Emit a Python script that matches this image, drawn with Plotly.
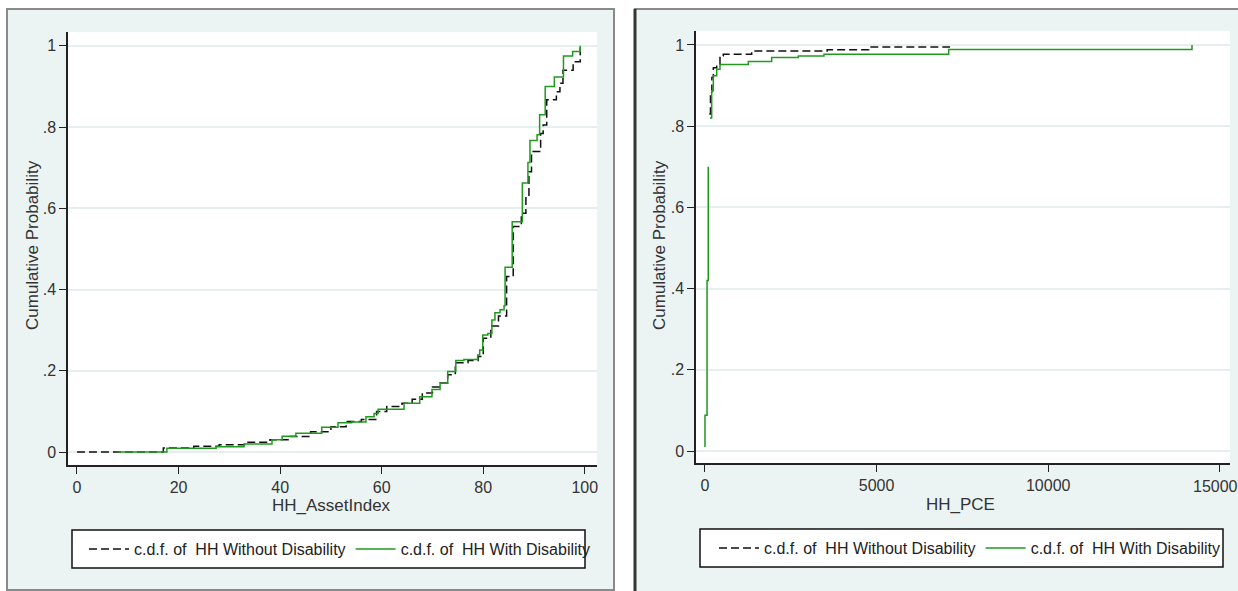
import plotly.graph_objects as go

W, H = 1238, 591

# ---------------- data ----------------
# Left panel: HH_AssetIndex
asset_without_x = [0, 17.0, 23, 28, 33, 38, 42, 46, 50, 53, 56, 59, 61, 64, 66, 68, 70, 71.5, 73, 74.5,
                   77, 79, 80, 81.5, 83, 84.6, 85.9, 87.5, 88.4, 89.0, 89.5, 91.3, 91.8, 92.5, 94.4,
                   95.1, 95.7, 97.7, 99.1]
asset_without_y = [0, 0.010, 0.014, 0.018, 0.024, 0.030, 0.038, 0.050, 0.062, 0.075, 0.080, 0.100, 0.112,
                   0.120, 0.130, 0.145, 0.160, 0.170, 0.190, 0.220, 0.225, 0.235, 0.280, 0.310, 0.335,
                   0.432, 0.555, 0.588, 0.629, 0.690, 0.740, 0.784, 0.805, 0.867, 0.887, 0.908, 0.940,
                   0.961, 1.0]
asset_with_x = [7.9, 17.7, 27.4, 32.9, 38.4, 40.4, 43.1, 48.2, 51.4, 54.1, 56.9, 58.5, 59.3, 64.4, 67.5,
                69.9, 71.5, 73.0, 74.6, 76.2, 78.9, 79.3, 79.9, 80.9, 81.7, 82.3, 83.3, 84.1, 84.3, 85.7,
                87.7, 88.8, 89.2, 90.6, 91.1, 92.2, 94.0, 95.8, 97.6, 99.1]
asset_with_y = [0, 0.009, 0.013, 0.020, 0.030, 0.039, 0.046, 0.061, 0.072, 0.074, 0.087, 0.095, 0.105,
                0.120, 0.136, 0.154, 0.169, 0.198, 0.225, 0.228, 0.239, 0.251, 0.288, 0.292, 0.325,
                0.343, 0.350, 0.360, 0.455, 0.567, 0.662, 0.713, 0.767, 0.781, 0.830, 0.900, 0.923,
                0.975, 0.986, 1.0]

# Right panel: HH_PCE
pce_without_x = [126, 160, 200, 243, 341, 437, 533, 1360, 3560, 4772, 7140]
pce_without_y = [0.830, 0.880, 0.920, 0.944, 0.952, 0.973, 0.977, 0.985, 0.988, 0.995, 0.995]
pce_with_x = [0, 0, 60, 95, None, 146, 195, 243, 341, 437, 1262, 1943, 2719, 3467, 7100, 14190]
pce_with_y = [0.01, 0.088, 0.42, 0.70, None, 0.82, 0.887, 0.924, 0.940, 0.952, 0.959, 0.969, 0.973,
              0.977, 0.989, 0.995]
pce_with_end_y = 1.0

y_ticks = [0, 0.2, 0.4, 0.6, 0.8, 1]
y_ticktext = ["0", ".2", ".4", ".6", ".8", "1"]
asset_ticks = [0, 20, 40, 60, 80, 100]
asset_ticktext = ["0", "20", "40", "60", "80", "100"]
pce_ticks = [0, 5000, 10000, 15000]
pce_ticktext = ["0", "5000", "10000", ""]
pce_last_label = "15000"  # drawn separately so it stays inside the page edge

name_without = "c.d.f. of  HH Without Disability"
name_with = "c.d.f. of  HH With Disability"
y_title = "Cumulative Probability"
x_title_left = "HH_AssetIndex"
x_title_right = "HH_PCE"

# ---------------- style ----------------
FONT = "Liberation Sans Narrow, Liberation Sans, Arial, sans-serif"
GREEN = "#1f9a1f"
BLACK = "#111111"
PANEL = "#ebf3f3"


def px(x):
    return x / W


def py(y):
    return 1 - y / H


fig = go.Figure()

fig.add_trace(go.Scatter(x=asset_without_x, y=asset_without_y, mode="lines", line_shape="hv",
                         line=dict(color=BLACK, width=1.5, dash="8px,4px"), name=name_without,
                         xaxis="x", yaxis="y", legend="legend"))
fig.add_trace(go.Scatter(x=asset_with_x, y=asset_with_y, mode="lines", line_shape="hv",
                         line=dict(color=GREEN, width=1.5), name=name_with,
                         xaxis="x", yaxis="y", legend="legend"))
fig.add_trace(go.Scatter(x=pce_without_x, y=pce_without_y, mode="lines", line_shape="hv",
                         line=dict(color=BLACK, width=1.5, dash="8px,4px"), name=name_without,
                         xaxis="x2", yaxis="y2", legend="legend2"))
fig.add_trace(go.Scatter(x=pce_with_x + [pce_with_x[-1]], y=pce_with_y + [pce_with_end_y], mode="lines",
                         line_shape="hv", connectgaps=False,
                         line=dict(color=GREEN, width=1.5), name=name_with,
                         xaxis="x2", yaxis="y2", legend="legend2"))

tick_font = dict(family=FONT, size=16, color="#333")
axis_common = dict(showline=True, linecolor="#222", linewidth=1.5, ticks="outside", ticklen=7,
                   tickcolor="#222", tickwidth=1.2, zeroline=False, tickfont=tick_font)

fig.update_layout(
    width=W, height=H, autosize=False, margin=dict(l=0, r=0, t=0, b=0),
    paper_bgcolor="white", plot_bgcolor="white",
    xaxis=dict(domain=[px(68), px(597)], range=[-1.77, 102.4], tickvals=asset_ticks,
               ticktext=asset_ticktext, showgrid=False, anchor="y", **axis_common),
    yaxis=dict(domain=[py(465), py(32)], range=[-0.032, 1.034], tickvals=y_ticks, ticktext=y_ticktext,
               showgrid=True, gridcolor="#e6efef", gridwidth=1.5, anchor="x", **axis_common),
    xaxis2=dict(domain=[px(696), px(1230)], range=[-262, 15297], tickvals=pce_ticks,
                ticktext=pce_ticktext, showgrid=False, anchor="y2", **axis_common),
    yaxis2=dict(domain=[py(463), py(31)], range=[-0.0295, 1.0344], tickvals=y_ticks, ticktext=y_ticktext,
                showgrid=True, gridcolor="#e6efef", gridwidth=1.5, anchor="x2", **axis_common),
    legend=dict(orientation="h", x=px(84), y=py(549), xanchor="left", yanchor="middle",
                bgcolor="rgba(0,0,0,0)", borderwidth=0, font=dict(family=FONT, size=16, color="#222"),
                itemwidth=40, tracegroupgap=0),
    legend2=dict(orientation="h", x=px(714), y=py(548), xanchor="left", yanchor="middle",
                 bgcolor="rgba(0,0,0,0)", borderwidth=0, font=dict(family=FONT, size=16, color="#222"),
                 itemwidth=40, tracegroupgap=0),
)

shapes = [
    # panel backgrounds
    dict(type="rect", xref="paper", yref="paper", x0=px(7), x1=px(614), y0=py(590), y1=py(9),
         fillcolor=PANEL, line=dict(color="#8a8a8a", width=2), layer="below"),
    dict(type="rect", xref="paper", yref="paper", x0=px(635), x1=px(1250), y0=py(600), y1=py(9),
         fillcolor=PANEL, line=dict(color="#8a8a8a", width=2), layer="below"),
    dict(type="line", xref="paper", yref="paper", x0=px(635), x1=px(635), y0=py(591), y1=py(9),
         line=dict(color="#333", width=3), layer="below"),
    # white plot regions
    dict(type="rect", xref="paper", yref="paper", x0=px(68), x1=px(597), y0=py(465), y1=py(32),
         fillcolor="white", line=dict(width=0), layer="below"),
    dict(type="rect", xref="paper", yref="paper", x0=px(696), x1=px(1230), y0=py(463), y1=py(31),
         fillcolor="white", line=dict(width=0), layer="below"),
    # legend boxes
    dict(type="rect", xref="paper", yref="paper", x0=px(72), x1=px(585), y0=py(568), y1=py(530),
         fillcolor="white", line=dict(color="#111", width=1.5), layer="below"),
    dict(type="rect", xref="paper", yref="paper", x0=px(700), x1=px(1223), y0=py(567), y1=py(529),
         fillcolor="white", line=dict(color="#111", width=1.5), layer="below"),
]
fig.update_layout(shapes=shapes)

title_font = dict(family=FONT, size=17, color="#333")
fig.add_annotation(text=y_title, xref="paper", yref="paper", x=px(33), y=py(245), textangle=-90,
                   showarrow=False, font=title_font, xanchor="center", yanchor="middle")
fig.add_annotation(text=y_title, xref="paper", yref="paper", x=px(660), y=py(245), textangle=-90,
                   showarrow=False, font=title_font, xanchor="center", yanchor="middle")
fig.add_annotation(text=x_title_left, xref="paper", yref="paper", x=px(331), y=py(505),
                   showarrow=False, font=title_font, xanchor="center", yanchor="middle")
fig.add_annotation(text=x_title_right, xref="paper", yref="paper", x=px(960), y=py(504),
                   showarrow=False, font=title_font, xanchor="center", yanchor="middle")
fig.add_annotation(text=pce_last_label, xref="paper", yref="paper", x=1.0, y=py(486),
                   showarrow=False, font=tick_font, xanchor="right", yanchor="middle",
                   borderpad=0, xshift=1)

fig.write_html("out.html", config={"displayModeBar": False, "responsive": False},
               default_width="1238px", default_height="591px",
               post_script="document.body.style.margin='0';document.body.style.overflow='hidden';")
